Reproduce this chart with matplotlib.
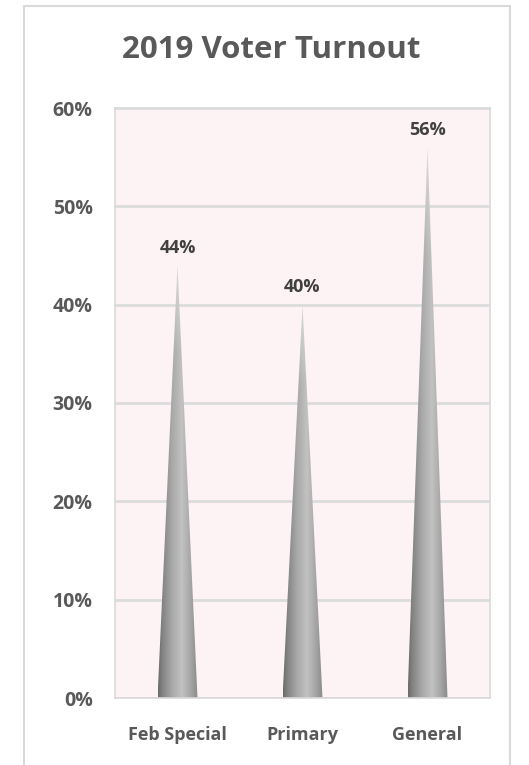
import numpy as np
import matplotlib.pyplot as plt
from matplotlib.patches import Polygon, Rectangle
from matplotlib.ticker import FuncFormatter

# turnout by election, 2019
elections = ["Feb Special", "Primary", "General"]
turnout = [44, 40, 56]
yticks = [0, 10, 20, 30, 40, 50, 60]

plt.rcParams['font.family'] = ['Open Sans', 'DejaVu Sans']

fig = plt.figure(figsize=(5.29, 7.65), dpi=100)
W, H = 529, 765

# outer chart frame
fig.patches.append(Rectangle((24 / W, -0.02), 486 / W, 1.02 - 6 / H,
                             transform=fig.transFigure, fill=False,
                             edgecolor='#d9d9d9', linewidth=1.5))

ax = fig.add_axes([115 / W, 67 / H, 375 / W, 590 / H])
ax.set_facecolor('#fdf3f4')
ax.set_xlim(-0.5, 2.5)
ax.set_ylim(0, 60)
ax.set_yticks(yticks)
ax.yaxis.set_major_formatter(FuncFormatter(lambda v, p: f"{v:.0f}%"))
ax.set_xticks(range(len(elections)))
ax.set_xticklabels(elections)
ax.tick_params(length=0)
ax.tick_params(axis='y', pad=16, labelsize=14, labelcolor='#595959')
ax.tick_params(axis='x', pad=20, labelsize=13, labelcolor='#595959')
for lab in ax.get_xticklabels() + ax.get_yticklabels():
    lab.set_fontweight('bold')
for s in ax.spines.values():
    s.set_color('#d9d9d9')
    s.set_linewidth(1.2)
ax.grid(axis='y', color='#dcdcdc', linewidth=2)
ax.set_axisbelow(True)

# shading across a cone (left edge -> right edge)
u = np.linspace(0, 1, 200)
shade = np.interp(u, [0, 0.12, 0.35, 0.6, 0.8, 1.0],
                  [0.42, 0.52, 0.66, 0.76, 0.66, 0.54])

half = 0.16
for i, v in enumerate(turnout):
    ny = 300
    yy = np.linspace(0, v, ny)[:, None]
    g = np.repeat(shade[None, :], ny, axis=0)
    # fade toward the tip
    t = np.clip((yy / v - 0.8) / 0.2, 0, 1)
    g = g * (1 - t) + 0.85 * t
    rgb = np.dstack([g, g, g])
    poly = Polygon([(i - half, 0), (i + half, 0), (i, v)], closed=True,
                   facecolor='none', edgecolor='none')
    ax.add_patch(poly)
    im = ax.imshow(rgb, extent=(i - half, i + half, 0, v), origin='lower',
                   aspect='auto', interpolation='bilinear', zorder=2)
    im.set_clip_path(poly)
    ax.annotate(f"{v}%", (i, v), xytext=(0, 6), textcoords='offset points',
                ha='center', va='bottom', fontsize=13, fontweight='bold',
                color='#404040')

fig.text(271 / W, 1 - 50 / H, "2019 Voter Turnout", ha='center', va='center',
         fontsize=22.5, fontweight='bold', color='#595959')

fig.savefig('out.png', dpi=100)
